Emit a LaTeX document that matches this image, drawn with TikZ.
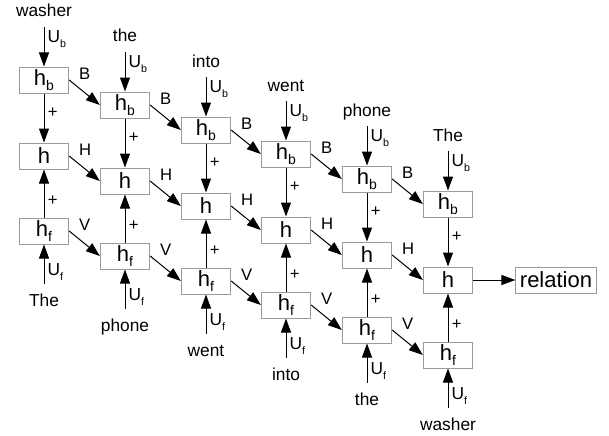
\documentclass[tikz,border=0pt]{standalone}
\usepackage{fontspec}
\setmainfont{Liberation Sans}
\usetikzlibrary{arrows.meta}

\newcommand{\hsub}[1]{h\raisebox{-4pt}{\fontsize{10.5}{10.5}\selectfont #1}}
\newcommand{\usub}[1]{U\raisebox{-3.5pt}{\fontsize{8}{8}\selectfont #1}}

\begin{document}
\begin{tikzpicture}[x=0.75pt,y=0.75pt,yscale=-1,xscale=1,
  cell/.style={draw={rgb, 255:red, 155; green, 155; blue, 155 }, line width=0.75pt, minimum width=37pt, minimum height=19.5pt, inner sep=0pt, font=\fontsize{16.5}{19}\selectfont},
  word/.style={anchor=base, font=\fontsize{13}{15}\selectfont, text height=12pt, text depth=3pt, inner xsep=0pt, inner ysep=4.5pt},
  flow/.style={-{Triangle[length=10.5pt,width=7.5pt]}, line width=0.75pt},
  ulbl/.style={font=\fontsize{13}{15}\selectfont, inner sep=2.25pt, right, pos=0.3},
  plbl/.style={font=\fontsize{12.5}{14}\selectfont, inner sep=2.5pt, right},
  dlbl/.style={font=\fontsize{12.5}{14}\selectfont, inner sep=0pt, pos=0, anchor=south west, xshift=7pt}
]
\useasboundingbox (0,0) rectangle (609,435);

%Shape: Backward cells
\node [cell] (hb0) at (44,80) {\hsub{b}};
\node [cell] (hb1) at (125,105) {\hsub{b}};
\node [cell] (hb2) at (206,130) {\hsub{b}};
\node [cell] (hb3) at (286,154) {\hsub{b}};
\node [cell] (hb4) at (367,179) {\hsub{b}};
\node [cell] (hb5) at (448,204) {\hsub{b}};
%Shape: Merged cells
\node [cell] (h0) at (44,156) {h};
\node [cell] (h1) at (125,181) {h};
\node [cell] (h2) at (206,206) {h};
\node [cell] (h3) at (286,230) {h};
\node [cell] (h4) at (367,255) {h};
\node [cell] (h5) at (448,280) {h};
%Shape: Forward cells
\node [cell] (hf0) at (44,231) {\hsub{f}};
\node [cell] (hf1) at (125,256) {\hsub{f}};
\node [cell] (hf2) at (206,281) {\hsub{f}};
\node [cell] (hf3) at (286,305) {\hsub{f}};
\node [cell] (hf4) at (367,330) {\hsub{f}};
\node [cell] (hf5) at (448,355) {\hsub{f}};
%Shape: Output
\node [cell, inner xsep=3pt] (rel) at (556,280) {relation};

% Text Node
\node [word] (tw0) at (44,17) {washer};
\node [word] (tw1) at (125,42) {the};
\node [word] (tw2) at (206,67) {into};
\node [word] (tw3) at (286,91) {went};
\node [word] (tw4) at (367,116) {phone};
\node [word] (tw5) at (448,141) {The};
% Text Node
\node [word] (bw0) at (44,306) {The};
\node [word] (bw1) at (125,331) {phone};
\node [word] (bw2) at (206,356) {went};
\node [word] (bw3) at (286,380) {into};
\node [word] (bw4) at (367,405) {the};
\node [word] (bw5) at (448,430) {washer};

%Straight Lines: inputs
\draw [flow] (tw0) -- node [ulbl] {\usub{b}} (hb0);
\draw [flow] (tw1) -- node [ulbl] {\usub{b}} (hb1);
\draw [flow] (tw2) -- node [ulbl] {\usub{b}} (hb2);
\draw [flow] (tw3) -- node [ulbl] {\usub{b}} (hb3);
\draw [flow] (tw4) -- node [ulbl] {\usub{b}} (hb4);
\draw [flow] (tw5) -- node [ulbl] {\usub{b}} (hb5);
\draw [flow] (bw0) -- node [ulbl] {\usub{f}} (hf0);
\draw [flow] (bw1) -- node [ulbl] {\usub{f}} (hf1);
\draw [flow] (bw2) -- node [ulbl] {\usub{f}} (hf2);
\draw [flow] (bw3) -- node [ulbl] {\usub{f}} (hf3);
\draw [flow] (bw4) -- node [ulbl] {\usub{f}} (hf4);
\draw [flow] (bw5) -- node [ulbl] {\usub{f}} (hf5);

%Straight Lines: sums
\draw [flow] (hb0) -- node [plbl, pos=0.4] {+} (h0);
\draw [flow] (hb1) -- node [plbl, pos=0.4] {+} (h1);
\draw [flow] (hb2) -- node [plbl, pos=0.4] {+} (h2);
\draw [flow] (hb3) -- node [plbl, pos=0.4] {+} (h3);
\draw [flow] (hb4) -- node [plbl, pos=0.4] {+} (h4);
\draw [flow] (hb5) -- node [plbl, pos=0.4] {+} (h5);
\draw [flow] (hf0) -- node [plbl, pos=0.35] {+} (h0);
\draw [flow] (hf1) -- node [plbl, pos=0.35] {+} (h1);
\draw [flow] (hf2) -- node [plbl, pos=0.35] {+} (h2);
\draw [flow] (hf3) -- node [plbl, pos=0.35] {+} (h3);
\draw [flow] (hf4) -- node [plbl, pos=0.35] {+} (h4);
\draw [flow] (hf5) -- node [plbl, pos=0.35] {+} (h5);

%Straight Lines: steps
\draw [flow] (hb0.east) -- node [dlbl] {B} (hb1.west);
\draw [flow] (hb1.east) -- node [dlbl] {B} (hb2.west);
\draw [flow] (hb2.east) -- node [dlbl] {B} (hb3.west);
\draw [flow] (hb3.east) -- node [dlbl] {B} (hb4.west);
\draw [flow] (hb4.east) -- node [dlbl] {B} (hb5.west);
\draw [flow] (h0.east) -- node [dlbl] {H} (h1.west);
\draw [flow] (h1.east) -- node [dlbl] {H} (h2.west);
\draw [flow] (h2.east) -- node [dlbl] {H} (h3.west);
\draw [flow] (h3.east) -- node [dlbl] {H} (h4.west);
\draw [flow] (h4.east) -- node [dlbl] {H} (h5.west);
\draw [flow] (hf0.east) -- node [dlbl] {V} (hf1.west);
\draw [flow] (hf1.east) -- node [dlbl] {V} (hf2.west);
\draw [flow] (hf2.east) -- node [dlbl] {V} (hf3.west);
\draw [flow] (hf3.east) -- node [dlbl] {V} (hf4.west);
\draw [flow] (hf4.east) -- node [dlbl] {V} (hf5.west);

%Straight Lines: output
\draw [flow] (h5) -- (rel);

\end{tikzpicture}
\end{document}
